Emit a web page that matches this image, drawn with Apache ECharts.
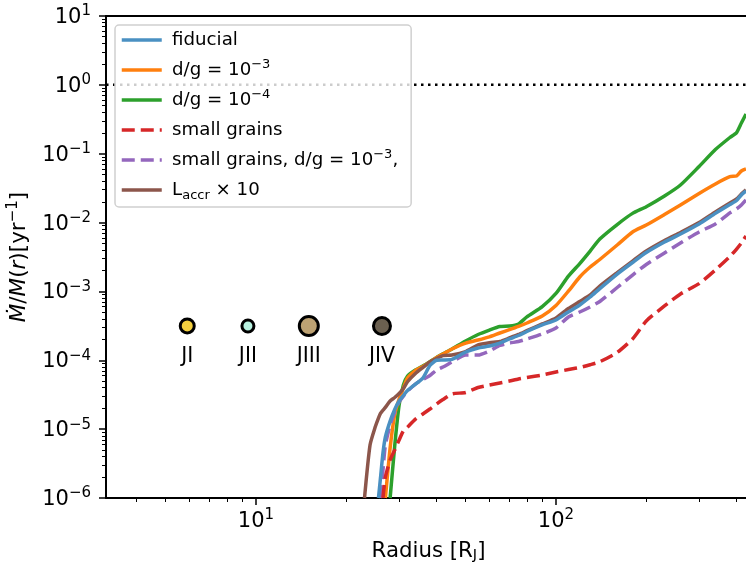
<!DOCTYPE html>
<html>
<head>
<meta charset="utf-8">
<style>html,body{margin:0;padding:0;background:#fff;overflow:hidden}#c{width:746px;height:563px}</style>
<script src="https://cdn.jsdelivr.net/npm/echarts@6/dist/echarts.min.js"></script>
</head>
<body>
<div id="c"></div>
<script>
const radius = [23,24,25,25.6,26,26.5,27,28,29,30,31,32,34,36,38,40,42,45,50,55,60,65,70,75,80,90,100,110,120,130,140,160,180,200,230,260,300,340,380,400,415,430];
const fiducial = [null,null,null,1e-6,1.95e-6,4.5e-6,7.69e-6,1.31e-5,1.93e-5,2.56e-5,3.08e-5,3.64e-5,4.52e-5,5.52e-5,8.39e-5,1e-4,1.01e-4,1.03e-4,1.32e-4,1.51e-4,1.61e-4,1.78e-4,2.04e-4,2.29e-4,2.62e-4,3.26e-4,3.85e-4,5.03e-4,6.36e-4,8.3e-4,1.1e-3,1.79e-3,2.63e-3,3.67e-3,5.22e-3,6.82e-3,9.53e-3,1.36e-2,1.83e-2,2.09e-2,2.52e-2,2.88e-2];
const dg3 = [null,null,null,null,null,null,1e-6,5.32e-6,1.63e-5,2.74e-5,3.95e-5,5.52e-5,7.1e-5,8.11e-5,9.43e-5,1.1e-4,1.23e-4,1.46e-4,1.78e-4,1.97e-4,2.19e-4,2.49e-4,2.78e-4,3.1e-4,3.48e-4,4.4e-4,6.25e-4,1.01e-3,1.62e-3,2.26e-3,2.91e-3,4.72e-3,7.3e-3,9.21e-3,1.31e-2,1.8e-2,2.65e-2,3.64e-2,4.64e-2,4.75e-2,5.61e-2,6e-2];
const dg4 = [null,null,null,null,null,null,null,1e-6,5.69e-6,2.24e-5,4.37e-5,5.91e-5,7.22e-5,8.25e-5,9.53e-5,1.1e-4,1.24e-4,1.46e-4,1.91e-4,2.37e-4,2.75e-4,3.1e-4,3.15e-4,3.37e-4,4.26e-4,6.01e-4,9.34e-4,1.67e-3,2.54e-3,3.86e-3,5.77e-3,9.37e-3,1.36e-2,1.7e-2,2.43e-2,3.51e-2,6.53e-2,1.15e-1,1.72e-1,2.03e-1,2.79e-1,3.77e-1];
const smallGrains = [null,null,null,null,null,1e-6,2.02e-6,3.56e-6,4.98e-6,6.96e-6,9.4e-6,1.07e-5,1.4e-5,1.66e-5,1.96e-5,2.32e-5,2.69e-5,3.24e-5,3.41e-5,4.02e-5,4.37e-5,4.68e-5,5e-5,5.34e-5,5.61e-5,6.11e-5,6.75e-5,7.34e-5,7.85e-5,8.62e-5,9.53e-5,1.3e-4,2.04e-4,3.72e-4,6.15e-4,9.18e-4,1.3e-3,2.05e-3,3.21e-3,4.13e-3,5.05e-3,6.38e-3];
const smallDg3 = [null,null,null,null,1e-6,2.55e-6,5.89e-6,1.15e-5,1.77e-5,2.48e-5,3.02e-5,3.58e-5,4.52e-5,5.26e-5,6.01e-5,7.22e-5,7.98e-5,9.43e-5,1.19e-4,1.19e-4,1.36e-4,1.64e-4,1.78e-4,1.87e-4,2.04e-4,2.41e-4,2.95e-4,4.26e-4,5.03e-4,5.95e-4,7.15e-4,1.14e-3,1.73e-3,2.46e-3,3.61e-3,5.05e-3,7.3e-3,9.53e-3,1.38e-2,1.58e-2,1.8e-2,2.13e-2];
const laccr = [1e-6,5.89e-6,1.09e-5,1.45e-5,1.69e-5,1.88e-5,2.07e-5,2.56e-5,2.88e-5,3.29e-5,3.89e-5,4.88e-5,6.42e-5,7.85e-5,9.43e-5,1.06e-4,1.17e-4,1.19e-4,1.34e-4,1.67e-4,1.8e-4,1.87e-4,2.11e-4,2.37e-4,2.69e-4,3.37e-4,4.12e-4,5.65e-4,7.15e-4,8.88e-4,1.2e-3,1.88e-3,2.76e-3,3.86e-3,5.48e-3,7.18e-3,1e-2,1.43e-2,1.93e-2,2.2e-2,2.6e-2,2.98e-2];

const moonNames = ['JI','JII','JIII','JIV'];
const moonRadius = [5.9,9.4,15,26.3];
const moonMdot = [3.15e-4,3.15e-4,3.15e-4,3.15e-4];

const unityRadius = [3.1623,430];
const unityMdot = [1,1];

const xMajorTicks = [10,100];
const xMinorTicks = [4,5,6,7,8,9,20,30,40,50,60,70,80,90,200,300,400];
const yMajorTicks = [1e-6,1e-5,1e-4,1e-3,1e-2,1e-1,1,10];
const yMinorTicks = [];
for (let e = -6; e < 1; e++) for (let m = 2; m < 10; m++) yMinorTicks.push(m * Math.pow(10, e));

const moonSizes = [14,12,19,17];
const moonColors = ['#f4d03f','#b8f2e0','#bda273','#6b6050'];

const font = 'DejaVu Sans';
const zip = (vals) => radius.map((r, i) => [r, vals[i]]);
const line = (name, vals, color, dashed) => ({
  name, type: 'line', data: zip(vals), symbol: 'none', smooth: 0.2,
  connectNulls: false, clip: true, animation: false,
  lineStyle: { color, width: 3.5, type: dashed ? [13, 6] : 'solid', cap: 'butt', join: 'round' },
  itemStyle: { color }
});

const supRich = {
  sup: { fontSize: 15, fontFamily: font, color: '#000', verticalAlign: 'top', lineHeight: 20, padding: [0, 0, 6, 0] },
  base: { fontSize: 21, fontFamily: font, color: '#000', verticalAlign: 'bottom', lineHeight: 24 }
};
const exp = (v) => {
  const e = Math.round(Math.log10(v));
  return '{base|10}{sup|' + String(e).replace('-', '\u2212') + '}';
};

const legendRich = {
  t: { fontSize: 18.2, fontFamily: font, color: '#000', lineHeight: 24, verticalAlign: 'middle' },
  s: { fontSize: 13, fontFamily: font, color: '#000', lineHeight: 24, verticalAlign: 'top' },
  d: { fontSize: 13, fontFamily: font, color: '#000', lineHeight: 24, verticalAlign: 'bottom' }
};
const legendLabels = {
  'fiducial': '{s|\u200a}{t|fiducial}{d|\u200a}',
  'dg3': '{d|\u200a}{t|d/g = 10}{s|\u22123}',
  'dg4': '{d|\u200a}{t|d/g = 10}{s|\u22124}',
  'small grains': '{s|\u200a}{t|small grains}{d|\u200a}',
  'smalldg3': '{d|\u200a}{t|small grains, d/g = 10}{s|\u22123}{t|,}',
  'laccr': '{s|\u200a}{t|L}{d|accr}{t| \u00d7 10}'
};

const baseX = { type: 'log', logBase: 10, min: 3.1623, max: 430, splitLine: { show: false }, minorTick: { show: false }, minorSplitLine: { show: false } };
const baseY = { type: 'log', logBase: 10, min: 1e-6, max: 10, splitLine: { show: false }, minorTick: { show: false }, minorSplitLine: { show: false } };
const axLine = { show: true, onZero: false, lineStyle: { color: '#000', width: 2 } };

const option = {
  backgroundColor: '#fff',
  animation: false,
  grid: { left: 106, top: 16, width: 640, height: 482, containLabel: false, outerBoundsMode: 'none' },
  xAxis: [
    Object.assign({}, baseX, {
      position: 'bottom',
      axisLine: axLine,
      axisTick: { show: true, length: 7, lineStyle: { color: '#000', width: 1.5 }, customValues: xMajorTicks },
      axisLabel: { show: true, margin: 10, formatter: exp, rich: supRich, customValues: xMajorTicks, hideOverlap: false },
      name: '{t|Radius [R}{j|J}{t|]}',
      nameLocation: 'middle',
      nameGap: 41,
      nameTextStyle: {
        padding: [0, 0, 0, 5],
        rich: {
          t: { fontSize: 21.3, fontFamily: font, color: '#000', lineHeight: 24, verticalAlign: 'middle' },
          j: { fontSize: 14.5, fontFamily: font, color: '#000', lineHeight: 14, verticalAlign: 'bottom' }
        }
      }
    }),
    Object.assign({}, baseX, {
      position: 'bottom',
      axisLine: { show: false },
      axisTick: { show: true, length: 4, lineStyle: { color: '#000', width: 1 }, customValues: xMinorTicks },
      axisLabel: { show: false }
    }),
    Object.assign({}, baseX, {
      position: 'top',
      axisLine: axLine,
      axisTick: { show: false },
      axisLabel: { show: false }
    })
  ],
  yAxis: [
    Object.assign({}, baseY, {
      position: 'left',
      axisLine: axLine,
      axisTick: { show: true, length: 7, lineStyle: { color: '#000', width: 1.5 }, customValues: yMajorTicks },
      axisLabel: { show: true, margin: 15, formatter: exp, rich: supRich, customValues: yMajorTicks, hideOverlap: false },
      name: '{i|\u1e40}{t|/}{i|M}{t|(}{i|r}{t|)[yr}{s|\u22121}{t|]}',
      nameLocation: 'middle',
      nameRotate: 90,
      nameGap: 74,
      nameTextStyle: {
        rich: {
          t: { fontSize: 21.5, fontFamily: font, color: '#000', lineHeight: 26, verticalAlign: 'middle' },
          i: { fontSize: 21.5, fontFamily: font, fontStyle: 'italic', color: '#000', lineHeight: 26, verticalAlign: 'middle' },
          s: { fontSize: 15, fontFamily: font, color: '#000', lineHeight: 26, verticalAlign: 'top' }
        }
      }
    }),
    Object.assign({}, baseY, {
      position: 'left',
      axisLine: { show: false },
      axisTick: { show: true, length: 4, lineStyle: { color: '#000', width: 1 }, customValues: yMinorTicks },
      axisLabel: { show: false }
    })
  ],
  legend: {
    show: true,
    left: 115,
    top: 25,
    orient: 'vertical',
    data: ['fiducial','dg3','dg4','small grains','smalldg3','laccr'],
    itemWidth: 40,
    itemHeight: 14,
    itemGap: 6,
    itemStyle: { color: 'transparent', borderColor: 'transparent', borderWidth: 0 },
    lineStyle: { width: 3.5 },
    padding: [3, 13, 5, 5],
    selectedMode: false,
    backgroundColor: 'rgba(255,255,255,0.8)',
    borderColor: '#d0d0d0',
    borderWidth: 1.5,
    borderRadius: 4,
    formatter: (n) => legendLabels[n],
    textStyle: { rich: legendRich, padding: [0, 0, 0, 4] }
  },
  series: [
    { name: 'unity', type: 'line', data: unityRadius.map((r, i) => [r, unityMdot[i]]), symbol: 'none', animation: false,
      lineStyle: { color: '#000', width: 2.5, type: [2.5, 4.5] }, z: 1 },
    line('dg4', dg4, '#2ca02c', false),
    line('dg3', dg3, '#ff7f0e', false),
    line('smalldg3', smallDg3, '#9467bd', true),
    line('laccr', laccr, '#8c564b', false),
    line('fiducial', fiducial, '#4a90c2', false),
    line('small grains', smallGrains, '#d62728', true),
    {
      name: 'moons', type: 'scatter', animation: false,
      data: moonRadius.map((r, i) => ({
        value: [r, moonMdot[i]], name: moonNames[i],
        symbolSize: moonSizes[i],
        itemStyle: { color: moonColors[i], borderColor: '#000', borderWidth: 3, opacity: 1 }
      })),
      label: { show: true, position: 'inside', offset: [0, 31], formatter: '{b}', fontFamily: font, fontSize: 20.5, color: '#000' }
    }
  ]
};
const chart = echarts.init(document.getElementById('c'), null, { renderer: 'canvas' });
chart.setOption(option);
</script>
</body>
</html>
